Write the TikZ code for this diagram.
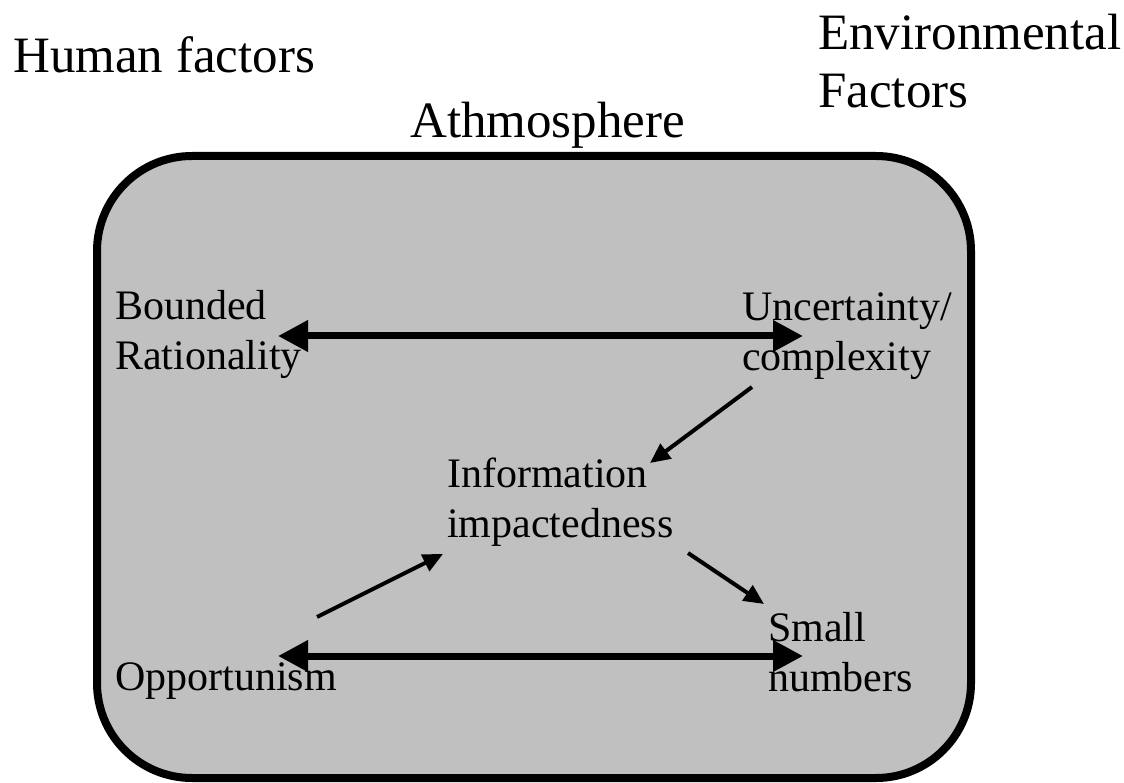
\documentclass[tikz,border=0pt]{standalone}
\usepackage{fontspec}
\setmainfont{Liberation Serif}
\usetikzlibrary{arrows.meta}
\definecolor{boxgray}{HTML}{C0C0C0}
\tikzset{
  bigtext/.style={anchor=base west, inner sep=0pt, font=\fontsize{51}{58}\selectfont},
  lbl/.style={anchor=base west, inner sep=0pt, font=\fontsize{42}{50}\selectfont},
  thickarrow/.style={line width=7pt, {Triangle[length=30pt,width=30pt]}-{Triangle[length=30pt,width=30pt]}},
  thinarrow/.style={line width=4pt, -{Triangle[length=20pt,width=18pt]}},
  frame/.style={line width=8pt, fill=boxgray, rounded corners=95pt}
}
\newcommand{\twol}[2]{\begin{tabular}[t]{@{}l@{}}#1\\#2\end{tabular}}
\begin{document}
\begin{tikzpicture}[x=1pt,y=-1pt]
\useasboundingbox (0,0) rectangle (1124,783);
\draw[frame] (97,156) rectangle (971,778);
\node[bigtext] (human) at (13,73) {Human factors};
\node[bigtext] (atm) at (410,138) {Athmosphere};
\node[bigtext] (env) at (818,50) {\fontsize{51}{58}\selectfont\twol{Environmental}{Factors}};
\node[lbl] (br) at (115,320) {\fontsize{42}{50}\selectfont\twol{Bounded}{Rationality}};
\node[lbl] (unc) at (742,321) {\fontsize{42}{50}\selectfont\twol{Uncertainty/}{complexity}};
\node[lbl] (info) at (447,487) {\fontsize{42}{50}\selectfont\twol{Information}{impactedness}};
\node[lbl] (small) at (768,641) {\fontsize{42}{50}\selectfont\twol{Small}{numbers}};
\node[lbl] (opp) at (115,690) {Opportunism};
\coordinate (brR) at (278,336);
\coordinate (uncL) at (803,336);
\coordinate (oppR) at (278,656);
\coordinate (smallL) at (803,656);
\coordinate (uncS) at (752,387);
\coordinate (infoT) at (650,463);
\coordinate (oppS) at (317,617);
\coordinate (infoL) at (443,554);
\coordinate (infoS) at (688,553);
\coordinate (smallT) at (764,604);
\draw[thickarrow] (brR) -- (uncL);
\draw[thickarrow] (oppR) -- (smallL);
\draw[thinarrow] (uncS) -- (infoT);
\draw[thinarrow] (oppS) -- (infoL);
\draw[thinarrow] (infoS) -- (smallT);
\end{tikzpicture}
\end{document}
